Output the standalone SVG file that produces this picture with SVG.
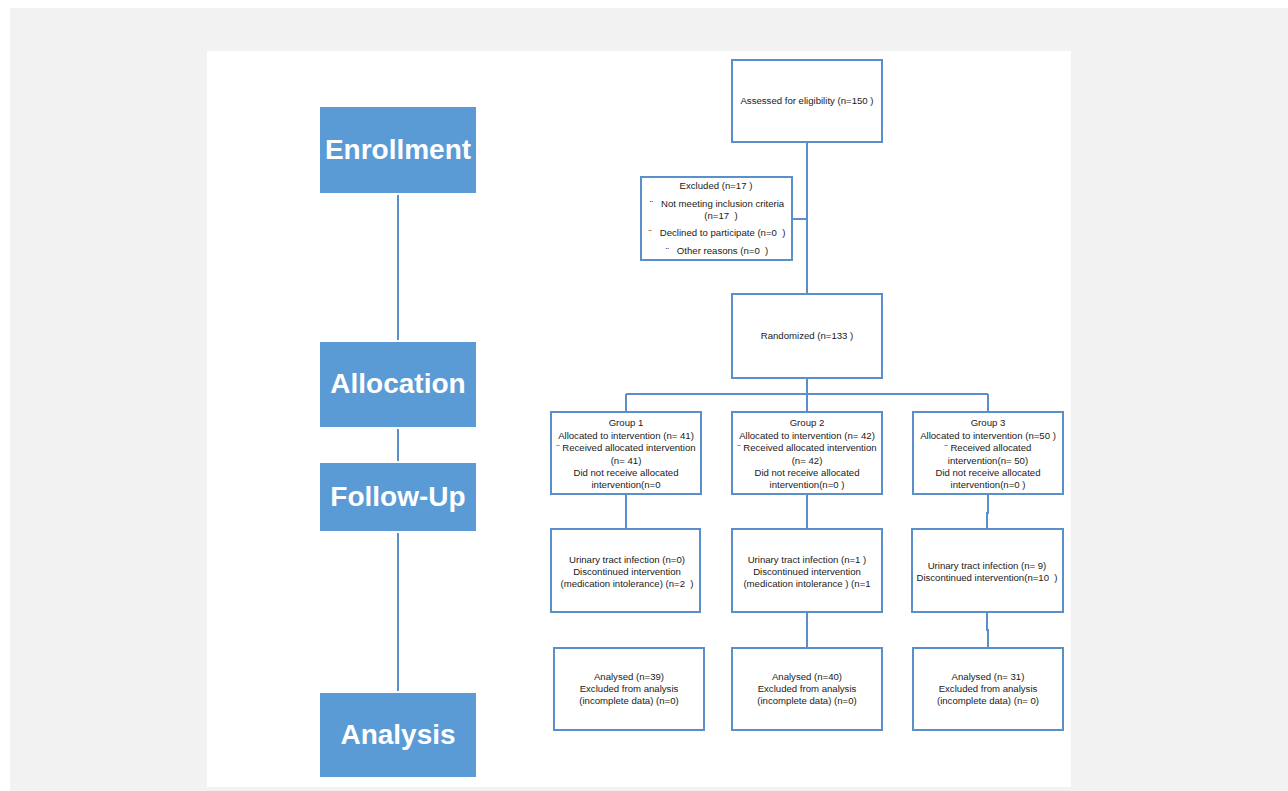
<svg xmlns="http://www.w3.org/2000/svg" width="1288" height="791" viewBox="0 0 1288 791">
<style>
.box{fill:#fff;stroke:#5b8fcb;stroke-width:2}
.stage{fill:#5b9bd5}
.stl{font-family:"Liberation Sans",Arial,sans-serif;font-weight:bold;font-size:28px;fill:#fff;text-anchor:middle}
.t{font-family:"Liberation Sans",Arial,sans-serif;font-size:9.6px;fill:#1a1a1a;text-anchor:middle}
.ln{fill:none;stroke:#5b8fcb;stroke-width:2}
</style>
<rect x="0" y="0" width="1288" height="791" fill="#fff"/>
<rect x="10" y="8" width="1278" height="783" fill="#f2f2f2"/>
<rect x="207" y="51" width="864" height="736" fill="#fff"/>
<g id="connectors">
<path class="ln" d="M398 195V340M398 429V461M398 533V691"/>
<path class="ln" d="M807 142V294M792 219H807M807 378V394M626 394H988M626 394V412M807 394V412M988 394V412"/>
<path class="ln" d="M626 494V529M807 494V529M988 494V513H987V529M807 612V648M987 612V630H988V648"/>
</g>
<g id="enrollment"><rect class="stage" x="320" y="107" width="156" height="86"/><text class="stl" x="398" y="159">Enrollment</text></g>
<g id="allocation"><rect class="stage" x="320" y="342" width="156" height="85"/><text class="stl" x="398" y="393">Allocation</text></g>
<g id="followup"><rect class="stage" x="320" y="463" width="156" height="68"/><text class="stl" x="398" y="506">Follow-Up</text></g>
<g id="analysis"><rect class="stage" x="320" y="693" width="156" height="84"/><text class="stl" x="398" y="744">Analysis</text></g>
<g id="assessed"><rect class="box" x="732" y="60" width="150" height="82"/><text class="t" x="807" y="104">Assessed for eligibility (n=150 )</text></g>
<g id="excluded"><rect class="box" x="641" y="177" width="151" height="83"/>
<text class="t" x="716" y="189">Excluded (n=17 )</text>
<text class="t" x="717" y="207" xml:space="preserve">¨   Not meeting inclusion criteria</text>
<text class="t" x="721" y="219" xml:space="preserve">(n=17  )</text>
<text class="t" x="717" y="236" xml:space="preserve">¨   Declined to participate (n=0  )</text>
<text class="t" x="717" y="254" xml:space="preserve">¨   Other reasons (n=0  )</text></g>
<g id="randomized"><rect class="box" x="732" y="294" width="150" height="84"/><text class="t" x="807" y="339">Randomized (n=133 )</text></g>
<g id="group1"><rect class="box" x="551" y="412" width="150" height="82"/>
<text class="t" x="626" y="426">Group 1</text>
<text class="t" x="626" y="438.5">Allocated to intervention (n= 41)</text>
<text class="t" x="626" y="451">¨ Received allocated intervention</text>
<text class="t" x="626" y="463.5">(n= 41)</text>
<text class="t" x="626" y="476">Did not receive allocated</text>
<text class="t" x="626" y="488">intervention(n=0</text></g>
<g id="group2"><rect class="box" x="732" y="412" width="150" height="82"/>
<text class="t" x="807" y="426">Group 2</text>
<text class="t" x="807" y="438.5">Allocated to intervention (n= 42)</text>
<text class="t" x="807" y="451">¨ Received allocated intervention</text>
<text class="t" x="807" y="463.5">(n= 42)</text>
<text class="t" x="807" y="476">Did not receive allocated</text>
<text class="t" x="807" y="488">intervention(n=0 )</text></g>
<g id="group3"><rect class="box" x="913" y="412" width="150" height="82"/>
<text class="t" x="988" y="426">Group 3</text>
<text class="t" x="988" y="438.5">Allocated to intervention (n=50 )</text>
<text class="t" x="988" y="451">¨ Received allocated</text>
<text class="t" x="988" y="463.5">intervention(n= 50)</text>
<text class="t" x="988" y="476">Did not receive allocated</text>
<text class="t" x="988" y="488">intervention(n=0 )</text></g>
<g id="follow1"><rect class="box" x="551" y="529" width="149" height="83"/>
<text class="t" x="627" y="562.5">Urinary tract infection (n=0)</text>
<text class="t" x="627" y="574.5">Discontinued intervention</text>
<text class="t" x="627" y="586.5" xml:space="preserve">(medication intolerance) (n=2  )</text></g>
<g id="follow2"><rect class="box" x="732" y="529" width="150" height="83"/>
<text class="t" x="807" y="562.5">Urinary tract infection (n=1 )</text>
<text class="t" x="807" y="574.5">Discontinued intervention</text>
<text class="t" x="807" y="586.5">(medication intolerance ) (n=1</text></g>
<g id="follow3"><rect class="box" x="912" y="529" width="151" height="83"/>
<text class="t" x="987" y="568.5">Urinary tract infection (n= 9)</text>
<text class="t" x="987" y="580.5" xml:space="preserve">Discontinued intervention(n=10  )</text></g>
<g id="analysis1"><rect class="box" x="554" y="648" width="150" height="82"/>
<text class="t" x="629" y="679.5">Analysed (n=39)</text>
<text class="t" x="629" y="691.5">Excluded from analysis</text>
<text class="t" x="629" y="704">(incomplete data) (n=0)</text></g>
<g id="analysis2"><rect class="box" x="732" y="648" width="150" height="82"/>
<text class="t" x="807" y="679.5">Analysed (n=40)</text>
<text class="t" x="807" y="691.5">Excluded from analysis</text>
<text class="t" x="807" y="704">(incomplete data) (n=0)</text></g>
<g id="analysis3"><rect class="box" x="913" y="648" width="150" height="82"/>
<text class="t" x="988" y="679.5">Analysed (n= 31)</text>
<text class="t" x="988" y="691.5">Excluded from analysis</text>
<text class="t" x="988" y="704">(incomplete data) (n= 0)</text></g>
</svg>
